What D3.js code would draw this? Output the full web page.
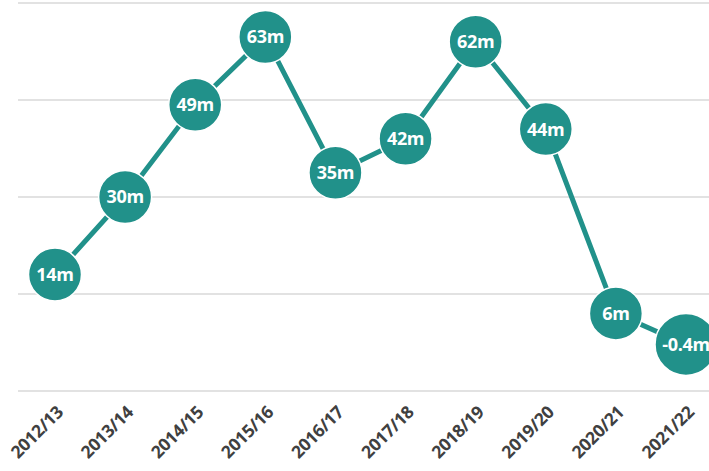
<html>
<head>
<script src="https://d3js.org/d3.v7.min.js"></script>
<style>
body { margin: 0; background: #fff; }
</style>
</head>
<body>
<script>
var width = 709;
var height = 471;

var years = ["2012/13", "2013/14", "2014/15", "2015/16", "2016/17", "2017/18", "2018/19", "2019/20", "2020/21", "2021/22"];
var values = [14, 30, 49, 63, 35, 42, 62, 44, 6, -0.4];
var labels = ["14m", "30m", "49m", "63m", "35m", "42m", "62m", "44m", "6m", "-0.4m"];
var gridTicks = [-10, 10, 30, 50, 70];

var teal = "#21918a";
var font = "'Open Sans', sans-serif";

var x = d3.scalePoint()
    .domain(years)
    .range([55, 686]);
var y = d3.scaleLinear()
    .domain([-10, 70])
    .range([391, 3]);

var svg = d3.select("body").append("svg")
    .attr("width", width)
    .attr("height", height);

// gridlines
svg.append("g")
  .selectAll("line")
  .data(gridTicks)
  .enter().append("line")
    .attr("x1", 18)
    .attr("x2", width)
    .attr("y1", function(d) { return y(d); })
    .attr("y2", function(d) { return y(d); })
    .attr("stroke", "#d9d9d9")
    .attr("stroke-width", 1.5);

var data = years.map(function(d, i) { return {year: d, value: values[i], label: labels[i]}; });

var line = d3.line()
    .x(function(d) { return x(d.year); })
    .y(function(d) { return y(d.value); });

svg.append("path")
    .datum(data)
    .attr("d", line)
    .attr("fill", "none")
    .attr("stroke", teal)
    .attr("stroke-width", 5);

var dots = svg.append("g")
  .selectAll("g")
  .data(data)
  .enter().append("g")
    .attr("transform", function(d) { return "translate(" + x(d.year) + "," + y(d.value) + ")"; });

dots.append("circle")
    .attr("r", function(d) { return d.label.length > 3 ? 31 : 26.5; })
    .attr("fill", teal)
    .attr("stroke", "#fff")
    .attr("stroke-width", 1.5);

dots.append("text")
    .attr("text-anchor", "middle")
    .attr("dy", "0.36em")
    .attr("fill", "#fff")
    .style("font-family", font)
    .style("font-weight", "bold")
    .style("font-size", "18px")
    .style("letter-spacing", "-0.3px")
    .text(function(d) { return d.label; });

// x axis labels
svg.append("g")
  .selectAll("text")
  .data(years)
  .enter().append("text")
    .attr("transform", function(d) { return "translate(" + (x(d) + 5) + ",409) rotate(-45)"; })
    .attr("text-anchor", "end")
    .attr("dy", "0.35em")
    .attr("fill", "#404040")
    .style("font-family", font)
    .style("font-weight", "bold")
    .style("font-size", "17.5px")
    .style("letter-spacing", "-0.3px")
    .text(function(d) { return d; });
</script>
</body>
</html>
